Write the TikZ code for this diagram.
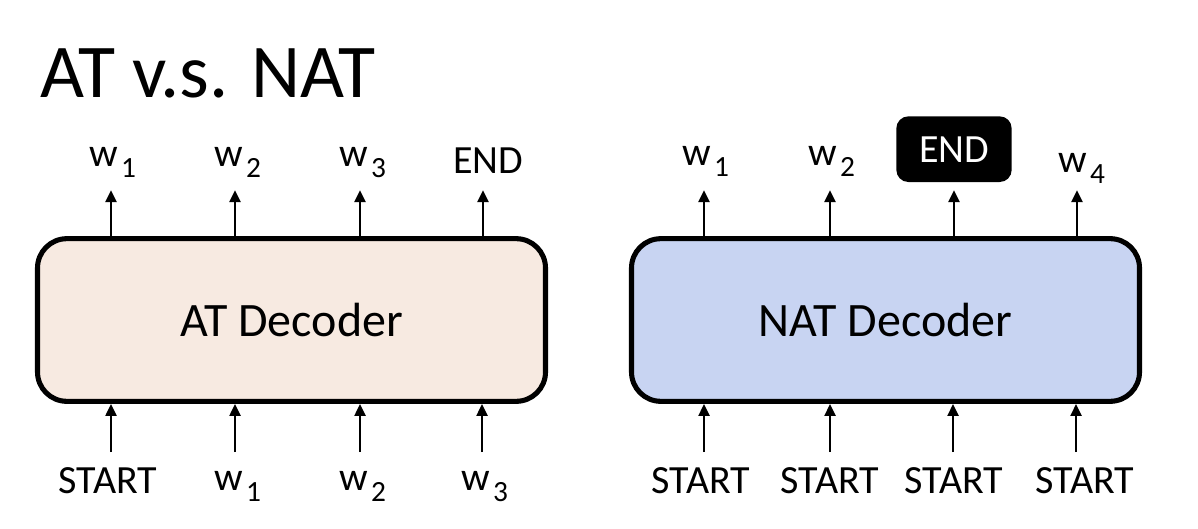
\documentclass[tikz,border=0pt]{standalone}
\usepackage{fontspec}
\setmainfont{Carlito}
\usepackage{xcolor}
\usepackage{tikz}
\usetikzlibrary{arrows.meta,positioning}
\definecolor{atfill}{RGB}{247,234,225}
\definecolor{natfill}{RGB}{200,212,242}
\newcommand{\wsub}[1]{w\kern2pt\raisebox{-0.28em}{\fontsize{22}{24}\selectfont #1}}

\begin{document}
\begin{tikzpicture}[x=0.75pt,y=-0.75pt,
  decoder/.style={draw=black,line width=3.8pt,rounded corners=22pt,minimum width=381pt,minimum height=122pt,inner sep=0pt,font=\fontsize{36}{42}\selectfont},
  arr/.style={line width=2.2pt,-{Triangle[length=9pt,width=8pt]}},
  word/.style={font=\fontsize{30}{36}\selectfont,inner sep=0pt,anchor=base},
  endbox/.style={word,fill=black,text=white,rounded corners=9pt,inner xsep=17pt,inner ysep=15pt}]
\useasboundingbox (0,0) rectangle (1198,528);
\node[anchor=base west,inner sep=0pt,font=\fontsize{57}{64}\selectfont] (title) at (40,98) {AT v.s. NAT};

% AT side
\node[decoder,fill=atfill] (atdec) at (291.5,320) {AT Decoder};
\node[word] (atout1) at (113,166) {\wsub{1}};
\node[word] (atout2) at (238,166) {\wsub{2}};
\node[word] (atout3) at (363,166) {\wsub{3}};
\node[word] (atout4) at (488,173) {END};
\coordinate (attop1) at (111,190);
\coordinate (attop2) at (235,190);
\coordinate (attop3) at (360,190);
\coordinate (attop4) at (483,190);
\draw[arr] (atdec.north -| attop1) -- (attop1);
\draw[arr] (atdec.north -| attop2) -- (attop2);
\draw[arr] (atdec.north -| attop3) -- (attop3);
\draw[arr] (atdec.north -| attop4) -- (attop4);
\node[word] (atin1) at (108,493) {START};
\node[word] (atin2) at (238,490) {\wsub{1}};
\node[word] (atin3) at (363,490) {\wsub{2}};
\node[word] (atin4) at (485,490) {\wsub{3}};
\coordinate (atbot1) at (111,452);
\coordinate (atbot2) at (235,452);
\coordinate (atbot3) at (360,452);
\coordinate (atbot4) at (482,452);
\draw[arr] (atbot1) -- (atdec.south -| atbot1);
\draw[arr] (atbot2) -- (atdec.south -| atbot2);
\draw[arr] (atbot3) -- (atdec.south -| atbot3);
\draw[arr] (atbot4) -- (atdec.south -| atbot4);

% NAT side
\node[decoder,fill=natfill] (natdec) at (885.5,320) {NAT Decoder};
\node[word] (natout1) at (706,165) {\wsub{1}};
\node[word] (natout2) at (832,165) {\wsub{2}};
\node[endbox] (natout3) at (954,162) {END};
\node[word] (natout4) at (1082,172) {\wsub{4}};
\coordinate (nattop1) at (704,190);
\coordinate (nattop2) at (830,190);
\coordinate (nattop3) at (954,190);
\coordinate (nattop4) at (1077,190);
\draw[arr] (natdec.north -| nattop1) -- (nattop1);
\draw[arr] (natdec.north -| nattop2) -- (nattop2);
\draw[arr] (natdec.north -| nattop3) -- (nattop3);
\draw[arr] (natdec.north -| nattop4) -- (nattop4);
\node[word] (natin1) at (701,493) {START};
\node[word] (natin2) at (830,493) {START};
\node[word] (natin3) at (954,493) {START};
\node[word] (natin4) at (1085,493) {START};
\coordinate (natbot1) at (704,452);
\coordinate (natbot2) at (830,452);
\coordinate (natbot3) at (953,452);
\coordinate (natbot4) at (1076,452);
\draw[arr] (natbot1) -- (natdec.south -| natbot1);
\draw[arr] (natbot2) -- (natdec.south -| natbot2);
\draw[arr] (natbot3) -- (natdec.south -| natbot3);
\draw[arr] (natbot4) -- (natdec.south -| natbot4);
\end{tikzpicture}
\end{document}
